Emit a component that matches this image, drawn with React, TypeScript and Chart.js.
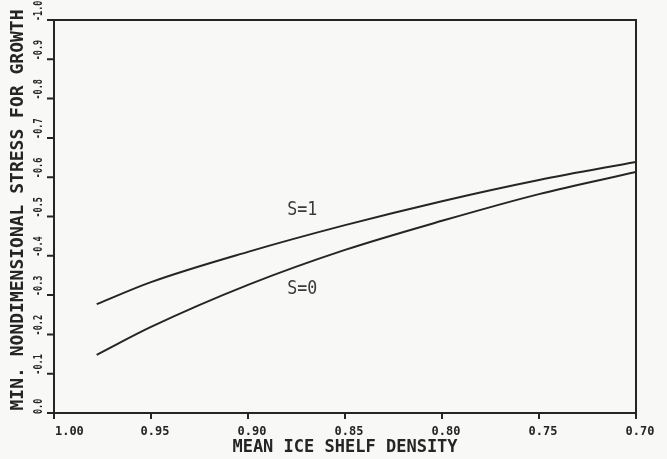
import React, { useEffect, useRef } from "react";
import { Chart, registerables } from "chart.js";

Chart.register(...registerables);

// Mean ice shelf density (x) and minimum nondimensional stress for growth (y)
const density = [0.978, 0.95, 0.9, 0.85, 0.8, 0.75, 0.7];
const stressS1 = [-0.277, -0.333, -0.41, -0.478, -0.539, -0.593, -0.639];
const stressS0 = [-0.148, -0.219, -0.326, -0.415, -0.489, -0.557, -0.613];

const xTickValues = [1.0, 0.95, 0.9, 0.85, 0.8, 0.75, 0.7];
const xTickLabels = ["1.00", "0.95", "0.90", "0.85", "0.80", "0.75", "0.70"];
const yTickValues = [0, -0.1, -0.2, -0.3, -0.4, -0.5, -0.6, -0.7, -0.8, -0.9, -1.0];
const yTickLabels = ["0.0", "-0.1", "-0.2", "-0.3", "-0.4", "-0.5", "-0.6", "-0.7", "-0.8", "-0.9", "-1.0"];

// Curve labels, anchored in data coordinates
const curveLabels = ["S=1", "S=0"];
const curveLabelX = [0.872, 0.872];
const curveLabelY = [-0.517, -0.316];

const xTitle = "MEAN ICE SHELF DENSITY";
const yTitle = "MIN. NONDIMENSIONAL STRESS FOR GROWTH";

const INK = "#252525";
const PAPER = "#f8f8f6";
const MONO = "'DejaVu Sans Mono', 'Liberation Mono', monospace";

const paperPlugin = {
  id: "paper",
  beforeDraw(chart: any) {
    const { ctx, width, height } = chart;
    ctx.save();
    ctx.fillStyle = PAPER;
    ctx.fillRect(0, 0, width, height);
    ctx.restore();
  },
};

const framePlugin = {
  id: "frame",
  afterDraw(chart: any) {
    const { ctx, chartArea, scales } = chart;
    const { left, top, right, bottom } = chartArea;
    const xs = scales.x;
    const ys = scales.y;
    ctx.save();
    ctx.strokeStyle = INK;
    ctx.fillStyle = INK;
    ctx.lineWidth = 2;
    ctx.strokeRect(left, top, right - left, bottom - top);

    // tick marks
    ctx.beginPath();
    xTickValues.forEach((v) => {
      const px = xs.getPixelForValue(v);
      ctx.moveTo(px, bottom);
      ctx.lineTo(px, bottom + 6);
    });
    yTickValues.forEach((v) => {
      const py = ys.getPixelForValue(v);
      ctx.moveTo(left - 7, py);
      ctx.lineTo(left, py);
    });
    ctx.stroke();

    // x tick labels
    ctx.font = `bold 13px ${MONO}`;
    ctx.textAlign = "center";
    ctx.textBaseline = "middle";
    xTickValues.forEach((v, i) => {
      const px = xs.getPixelForValue(v);
      const w = ctx.measureText(xTickLabels[i]).width * 0.92;
      const cx = Math.max(px + 4, left + w / 2 + 1);
      ctx.save();
      ctx.translate(cx, bottom + 19);
      ctx.scale(0.92, 1);
      ctx.fillText(xTickLabels[i], 0, 0);
      ctx.restore();
    });

    // y tick labels, rotated to read upward
    ctx.font = `bold 12.5px ${MONO}`;
    ctx.textAlign = "left";
    yTickValues.forEach((v, i) => {
      const py = ys.getPixelForValue(v);
      ctx.save();
      ctx.translate(39, py + 1);
      ctx.rotate(-Math.PI / 2);
      ctx.scale(0.68, 1);
      ctx.fillText(yTickLabels[i], 0, 0);
      ctx.restore();
    });

    // axis titles
    ctx.font = `bold 17px ${MONO}`;
    ctx.textAlign = "center";
    ctx.fillText(xTitle, (left + right) / 2, 448);

    ctx.save();
    ctx.font = `bold 18px ${MONO}`;
    ctx.translate(18, 210);
    ctx.rotate(-Math.PI / 2);
    ctx.fillText(yTitle, 0, 0);
    ctx.restore();

    // curve labels
    ctx.fillStyle = "#3a3a3a";
    ctx.font = `20px ${MONO}`;
    curveLabels.forEach((t, i) => {
      const px = xs.getPixelForValue(curveLabelX[i]);
      const py = ys.getPixelForValue(curveLabelY[i]);
      ctx.save();
      ctx.translate(px, py);
      ctx.scale(0.83, 1);
      ctx.fillText(t, 0, 0);
      ctx.restore();
    });
    ctx.restore();
  },
};

export default function App() {
  const canvasRef = useRef<HTMLCanvasElement | null>(null);

  useEffect(() => {
    const canvas = canvasRef.current;
    if (!canvas) return;
    const toPoints = (ys: number[]) => density.map((d, i) => ({ x: d, y: ys[i] }));
    const chart = new Chart(canvas, {
      type: "line",
      data: {
        datasets: [
          {
            label: curveLabels[0],
            data: toPoints(stressS1),
            borderColor: INK,
            borderWidth: 2,
            pointRadius: 0,
            fill: false,
            cubicInterpolationMode: "monotone",
          },
          {
            label: curveLabels[1],
            data: toPoints(stressS0),
            borderColor: INK,
            borderWidth: 2,
            pointRadius: 0,
            fill: false,
            cubicInterpolationMode: "monotone",
          },
        ],
      },
      options: {
        responsive: false,
        animation: false,
        events: [],
        layout: { padding: { left: 54, right: 31, top: 20, bottom: 46 } },
        scales: {
          x: { type: "linear", min: 0.7, max: 1.0, reverse: true, display: false },
          y: { type: "linear", min: -1, max: 0, reverse: true, display: false },
        },
        plugins: {
          legend: { display: false },
          tooltip: { enabled: false },
        },
      },
      plugins: [paperPlugin, framePlugin],
    } as any);
    return () => chart.destroy();
  }, []);

  return (
    <div style={{ position: "fixed", left: 0, top: 0, width: 667, height: 459, background: PAPER }}>
      <canvas ref={canvasRef} width={667} height={459} style={{ display: "block" }} />
    </div>
  );
}
